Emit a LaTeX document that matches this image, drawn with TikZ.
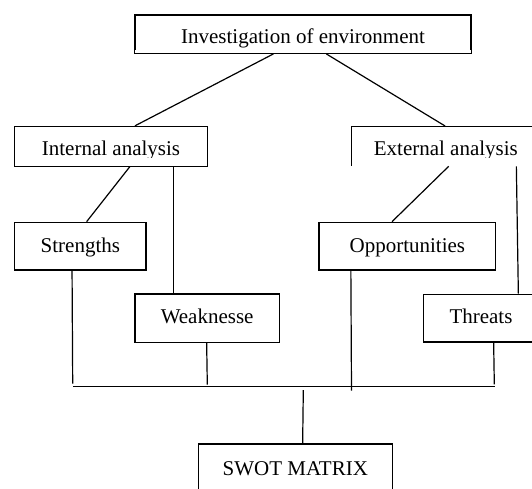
\documentclass[tikz,border=0pt]{standalone}
\usepackage{fontspec}
\setmainfont{Liberation Serif}
\begin{document}
\begin{tikzpicture}[x=1pt,y=-1pt,
  box/.style={draw, line width=1.3pt, inner sep=0pt, align=center,
    font=\fontsize{21}{25}\selectfont},
  conn/.style={line width=1.2pt},
  mask/.style={fill=white}]
\useasboundingbox (0,0) rectangle (532,489);
\clip (0,0) rectangle (532,489);

% boxes
\node[box, minimum width=336pt, text height=28.3pt, text depth=10pt] (top) at (303,34.15) {Investigation of environment};
\node[box, minimum width=192.6pt, text height=29.2pt, text depth=10.3pt] (int) at (111,146.25) {Internal analysis};
\node[box, minimum width=188.3pt, text height=29pt, text depth=10pt] (ext) at (445.85,146.2) {External analysis};
\node[box, minimum width=131.3pt, text height=30.4pt, text depth=17.3pt] (str) at (80.35,246.15) {Strengths};
\node[box, minimum width=176.7pt, text height=30.4pt, text depth=17.3pt] (opp) at (407.35,246.15) {Opportunities};
\node[box, minimum width=144.3pt, text height=29.3pt, text depth=19pt] (weak) at (207.15,318.15) {Weaknesse};
\node[box, minimum width=115.4pt, text height=29pt, text depth=18.7pt] (thr) at (481,318.15) {Threats};
\node[box, minimum width=194pt, text height=31.7pt, text depth=30pt] (swot) at (295.3,474.85) {SWOT MATRIX};

% clipped descenders of the text frames
\fill[mask] ([xshift=0.7pt,yshift=0.7pt]top.south west) rectangle ([xshift=-0.7pt,yshift=4pt]top.south east);
\fill[mask] ([xshift=0.7pt,yshift=0.7pt]int.south west) rectangle ([xshift=-0.7pt,yshift=9pt]int.south east);
\fill[mask] ([xshift=0.7pt,yshift=0.7pt]ext.south west) rectangle ([xshift=-0.7pt,yshift=8.7pt]ext.south east);

% bus coordinates
\coordinate (busL) at (73.3,386.7);
\coordinate (busR) at (495.3,386.7);
\coordinate (strEnd) at (72.7,383.6);
\coordinate (weakEnd) at (207.3,384.6);
\coordinate (oppEnd) at (351.5,390.7);
\coordinate (thrEnd) at (494.3,384.3);
\coordinate (swotTop) at (303.3,390.2);

% connectors
\draw[conn] ([xshift=139pt]top.south west) -- ([xshift=120.9pt]int.north west);
\draw[conn] ([xshift=192pt]top.south west) -- ([xshift=94.1pt]ext.north west);
\draw[conn] ([xshift=115.8pt]int.south west) -- ([xshift=72.6pt]str.north west);
\draw[conn] ([xshift=159.3pt]int.south west) -- ([xshift=39pt]weak.north west);
\draw[conn] ([xshift=97.6pt]ext.south west) -- ([xshift=73.7pt]opp.north west);
\draw[conn] ([xshift=165.3pt]ext.south west) -- ([xshift=95.7pt]thr.north west);

\draw[conn] ([xshift=58pt]str.south west) -- (strEnd);
\draw[conn] ([xshift=72.3pt]weak.south west) -- (weakEnd);
\draw[conn] ([xshift=32.5pt]opp.south west) -- (oppEnd);
\draw[conn] ([xshift=71pt]thr.south west) -- (thrEnd);
\draw[line width=1.4pt] (busL) -- (busR);
\draw[conn] (swotTop) -- ([xshift=105pt]swot.north west);
\end{tikzpicture}
\end{document}
